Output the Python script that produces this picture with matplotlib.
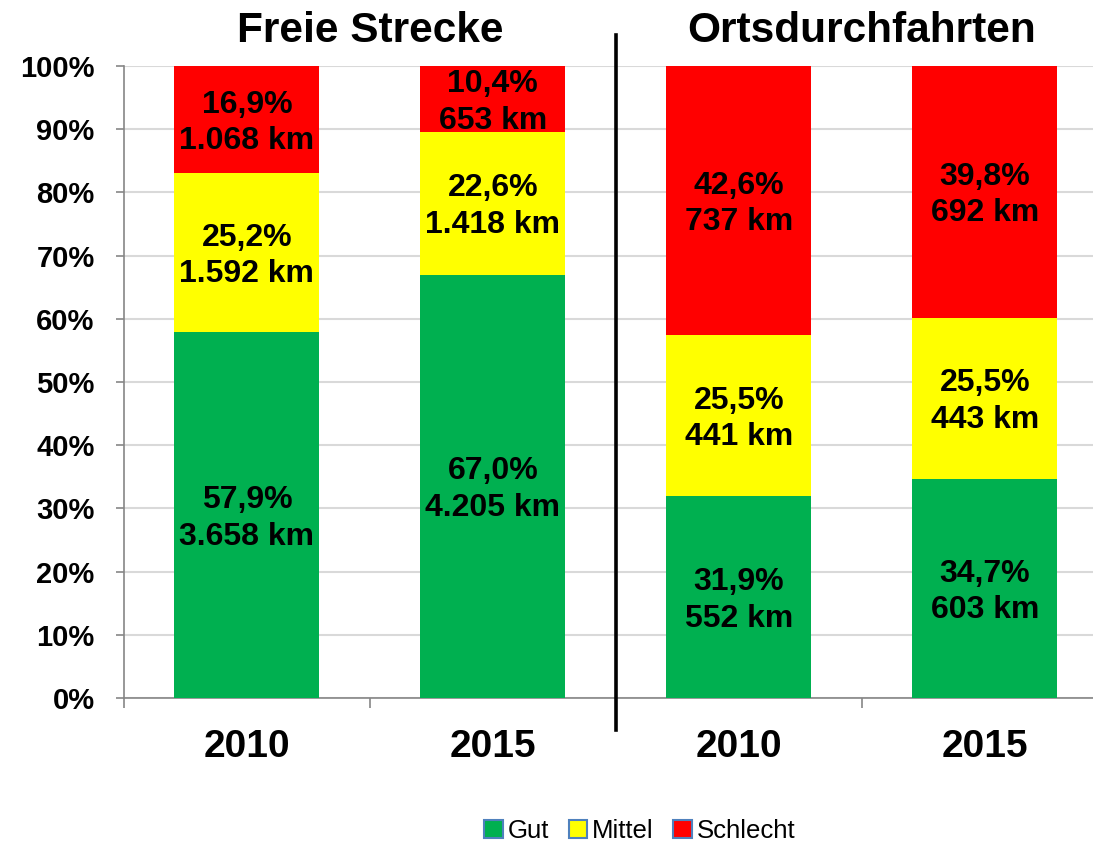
import numpy as np
import matplotlib
matplotlib.use('Agg')
from matplotlib import pyplot as plt
from matplotlib.patches import Patch
import matplotlib.transforms as mtransforms

plt.rcParams['font.family'] = ['Liberation Sans', 'DejaVu Sans']

# data
groups = ['Freie Strecke', 'Ortsdurchfahrten']
years = ['2010', '2015', '2010', '2015']
gut_pct = [57.9, 67.0, 31.9, 34.7]
mittel_pct = [25.2, 22.6, 25.5, 25.5]
schlecht_pct = [16.9, 10.4, 42.6, 39.8]
gut_km = ['3.658', '4.205', '552', '603']
mittel_km = ['1.592', '1.418', '441', '443']
schlecht_km = ['1.068', '653', '737', '692']

series = [('Gut', gut_pct, gut_km, '#00B050'),
          ('Mittel', mittel_pct, mittel_km, '#FFFF00'),
          ('Schlecht', schlecht_pct, schlecht_km, '#FF0000')]

fig = plt.figure(figsize=(10.93, 8.46), dpi=100)
ax = fig.add_axes([0.1133, 0.175, 0.9003, 0.747])

x = np.arange(len(years))
bottom = np.zeros(len(years))
for name, pct, km, col in series:
    pct = np.array(pct)
    ax.bar(x, pct, width=0.59, bottom=bottom, color=col, zorder=3)
    for i in range(len(x)):
        lbl = f"{pct[i]:.1f}".replace('.', ',') + '%\n' + km[i] + ' km'
        # small shift down: mpl centres on the bbox incl. descent
        ax.text(x[i], bottom[i] + pct[i] / 2 - 0.55, lbl, ha='center', va='center',
                fontsize=23, fontweight='bold', linespacing=1.28, zorder=4)
    bottom += pct

ax.set_xlim(-0.5, 3.5)
ax.set_ylim(0, 100)
ax.set_yticks(np.arange(0, 101, 10))
ax.set_yticklabels([f'{v}%' for v in range(0, 101, 10)], fontsize=21, fontweight='bold')
ax.yaxis.grid(True, color='#D9D9D9', linewidth=1.5, zorder=0)
ax.set_axisbelow(True)

ax.set_xticks(x)
ax.set_xticklabels(years, fontsize=28, fontweight='bold')
ax.set_xticks(np.arange(-0.5, 4, 1), minor=True)
ax.tick_params(axis='x', which='major', length=0, pad=22)
ax.tick_params(axis='x', which='minor', length=7, color='#868686', width=1.2)
ax.tick_params(axis='y', length=6, color='#868686', width=1.2, pad=15)

for s in ['top', 'right']:
    ax.spines[s].set_visible(False)
for s in ['left', 'bottom']:
    ax.spines[s].set_color('#868686')
    ax.spines[s].set_linewidth(1.2)

# divider between the two groups
trans = mtransforms.blended_transform_factory(ax.transData, ax.transAxes)
ax.plot([1.5, 1.5], [-0.051, 1.049], color='black', linewidth=2.6,
        transform=trans, clip_on=False, zorder=5)

for gx, g in zip([0.5, 2.5], groups):
    ax.text(gx, 1.055, g, transform=trans, ha='center', va='center',
            fontsize=30.5, fontweight='bold')

handles = [Patch(facecolor=c, edgecolor='#4F81BD', linewidth=1.5) for _, _, _, c in series]
fig.legend(handles, [s[0] for s in series], loc='center', ncol=3,
           bbox_to_anchor=(0.5855, 0.018), frameon=False, fontsize=18.5,
           handlelength=0.72, handleheight=0.72, handletextpad=0.2,
           columnspacing=0.75)

fig.savefig('out.png', dpi=100)
